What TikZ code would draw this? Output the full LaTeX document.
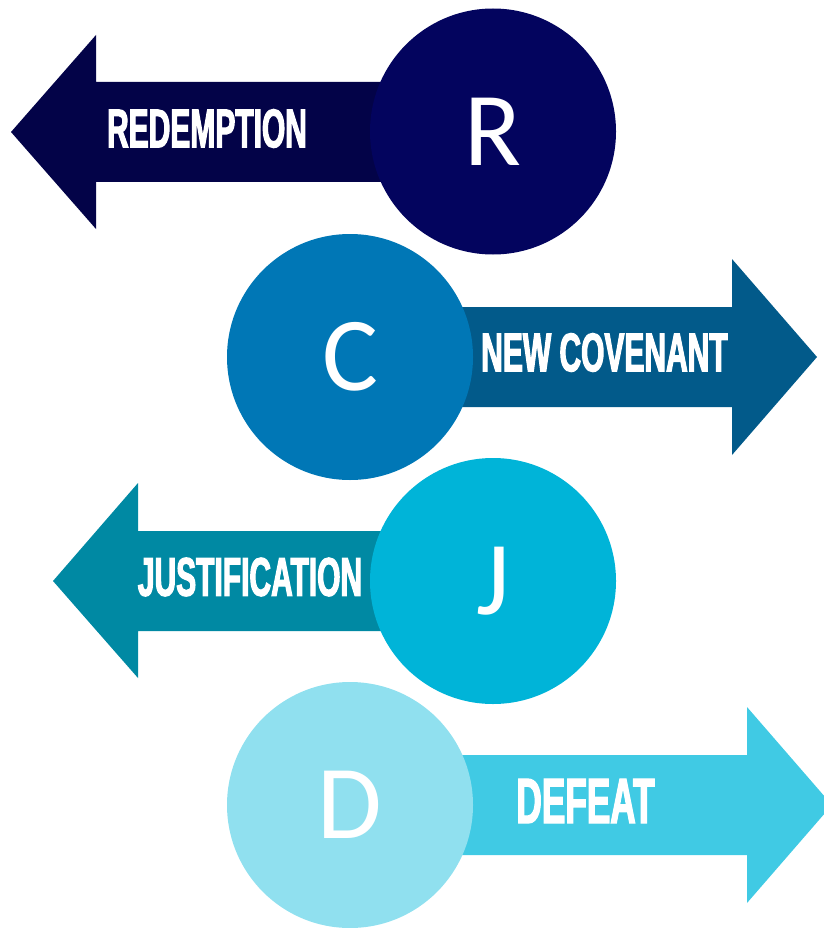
\documentclass[tikz,border=0pt]{standalone}
\usepackage{fontspec}
\setmainfont{Carlito}
\newfontfamily\bebas[FakeStretch=0.55,FakeBold=2]{Liberation Sans Bold}
\definecolor{navyArrow}{RGB}{3,3,72}
\definecolor{navyDisc}{RGB}{3,4,94}
\definecolor{blueArrow}{RGB}{2,90,138}
\definecolor{blueDisc}{RGB}{0,119,182}
\definecolor{tealArrow}{RGB}{0,137,163}
\definecolor{tealDisc}{RGB}{0,180,216}
\definecolor{skyArrow}{RGB}{64,202,228}
\definecolor{skyDisc}{RGB}{144,224,239}
\tikzset{
  disc/.style={circle, minimum size=246pt, inner sep=0pt, text=white, font=\fontsize{105}{105}\selectfont},
  word/.style={text=white, inner sep=0pt, font=\bebas\fontsize{54.5}{54.5}\selectfont},
}
\begin{document}
\begin{tikzpicture}[x=1pt,y=-1pt]
\useasboundingbox (0,0) rectangle (823,928);
\fill[navyArrow] (493,82) -- (96,82) -- (96,35) -- (11,132) -- (96,229) -- (96,182) -- (493,182) -- cycle;
\fill[blueArrow] (350,307) -- (732,307) -- (732,259) -- (817,357) -- (732,455) -- (732,407) -- (350,407) -- cycle;
\fill[tealArrow] (493,531) -- (138,531) -- (138,483) -- (53,581) -- (138,678) -- (138,631) -- (493,631) -- cycle;
\fill[skyArrow] (350,755) -- (747,755) -- (747,707) -- (832,805) -- (747,903) -- (747,855) -- (350,855) -- cycle;
\node[disc, fill=navyDisc] (cR) at (493,131.5){R};
\node[disc, fill=blueDisc] (cC) at (350,357){C};
\node[disc, fill=tealDisc] (cJ) at (493,581){J};
\node[disc, fill=skyDisc] (cD) at (350,805){D};
\node[word] (wR) at (207,128.5){REDEMPTION};
\node[word] (wC) at (604.5,352.5){NEW COVENANT};
\node[word] (wJ) at (250,577){JUSTIFICATION};
\node[word, font=\bebas\fontsize{64}{64}\selectfont] (wD) at (585.5,801){DEFEAT};
\end{tikzpicture}
\end{document}
